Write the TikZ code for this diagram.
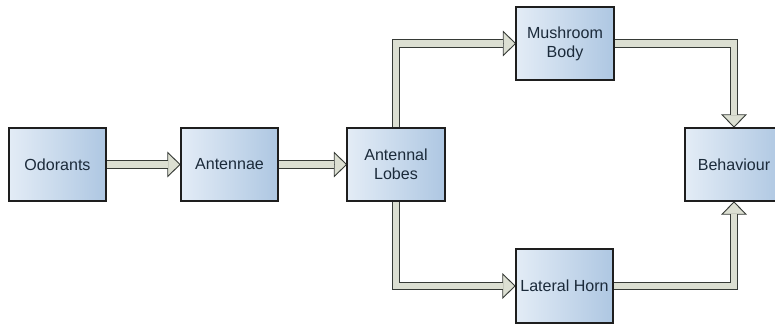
\documentclass[tikz,border=0pt]{standalone}
\usepackage{fontspec}
\setmainfont{Liberation Sans}
\usetikzlibrary{arrows.meta}
\definecolor{boxleft}{HTML}{E3ECF6}
\definecolor{boxright}{HTML}{AEC7E2}
\definecolor{boxline}{HTML}{1E1E1E}
\definecolor{boxtext}{HTML}{1B2A3A}
\definecolor{arrowfill}{HTML}{DCDFD2}
\definecolor{arrowline}{HTML}{363A36}
\begin{document}
\begin{tikzpicture}[x=0.03cm,y=-0.03cm,
  stage/.style={left color=boxleft,right color=boxright,
    minimum width=2.91cm,minimum height=2.19cm,align=center,text=boxtext,
    font=\fontsize{13.7}{16}\selectfont},
  fatline/.style={draw=arrowline,line width=0.8pt,double=arrowfill,double distance=5.8pt},
  fathead/.style={draw=arrowline,line width=0.8pt,-{Triangle[length=11.5pt,width=22pt,fill=arrowfill]}}]
\useasboundingbox (0,0) rectangle (775,323);

\node[stage] at (57.5,164.5) (odor) {Odorants};
\node[stage] at (229.5,164.5) (ant) {Antennae};
\node[stage] at (396,164.5) (lob) {Antennal\\Lobes};
\node[stage] at (565,43.5) (mush) {Mushroom\\Body};
\node[stage] at (564.5,286) (horn) {Lateral Horn};
\node[stage] at (734,164.5) (behav) {Behaviour};

% heads first, shafts over their back edge
\draw[fathead] ([xshift=-11.5pt]ant.west) -- (ant.west);
\draw[fatline] (odor.east) -- ([xshift=-11.1pt]ant.west);
\draw[fathead] ([xshift=-11.5pt]lob.west) -- (lob.west);
\draw[fatline] (ant.east) -- ([xshift=-11.1pt]lob.west);

\draw[fathead] ([xshift=-11.5pt]mush.west) -- (mush.west);
\draw[fatline] (lob.north) |- ([xshift=-11.1pt]mush.west);
\draw[fathead] ([xshift=-11.5pt]horn.west) -- (horn.west);
\draw[fatline] (lob.south) |- ([xshift=-11.1pt]horn.west);

\draw[fathead] ([yshift=11.5pt]behav.north) -- (behav.north);
\draw[fatline] (mush.east) -| ([yshift=11.1pt]behav.north);
\draw[fathead] ([yshift=-11.5pt]behav.south) -- (behav.south);
\draw[fatline] (horn.east) -| ([yshift=-11.1pt]behav.south);

\foreach \n in {odor,ant,lob,mush,horn,behav}
  \draw[boxline,line width=1.6pt] (\n.north west) rectangle (\n.south east);
\end{tikzpicture}
\end{document}
